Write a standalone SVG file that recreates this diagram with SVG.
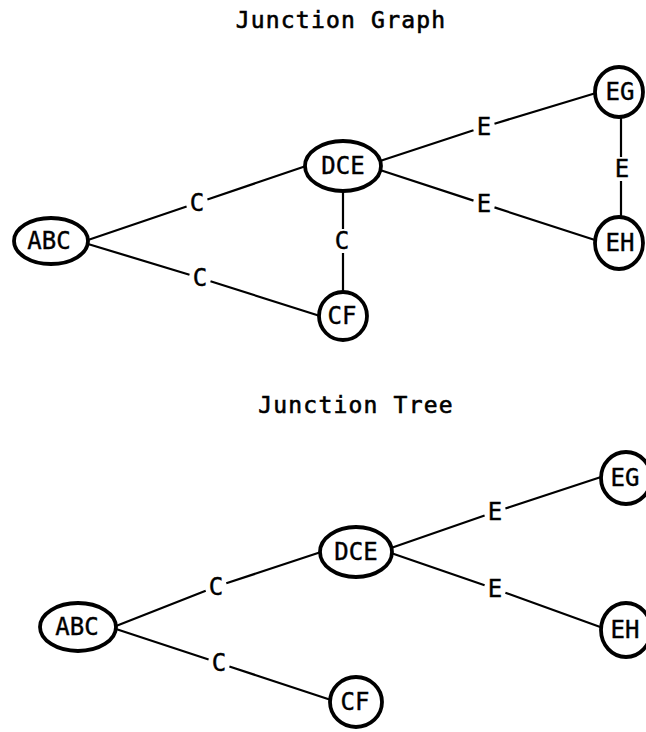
<svg xmlns="http://www.w3.org/2000/svg" width="646" height="732" viewBox="0 0 646 732">
  <style>
    .title { font-family: "DejaVu Sans Mono", "Liberation Mono", monospace; font-size: 23px; letter-spacing: 1.2px; fill: #000; stroke: #000; stroke-width: 0.6; text-anchor: middle; }
    .node ellipse { fill: #fff; stroke: #000; stroke-width: 3.8; }
    .node text { font-family: "DejaVu Sans Mono", "Liberation Mono", monospace; font-size: 24px; fill: #000; stroke: #000; stroke-width: 0.4; text-anchor: middle; }
    .edge { stroke: #000; stroke-width: 2.2; fill: none; }
    .elabel { font-family: "DejaVu Sans Mono", "Liberation Mono", monospace; font-size: 24px; fill: #000; stroke: #000; stroke-width: 0.4; text-anchor: middle; }
  </style>
  <rect width="646" height="732" fill="#fff"/>

  <!-- Junction graph -->
  <text class="title" x="341" y="28">Junction Graph</text>
  <g id="graph-edges">
    <path class="edge" d="M88 240 L186.6 206.5 M207.4 199.5 L306 166"/>
    <path class="edge" d="M88 244 L189.5 274.7 M210.5 281.3 L320 316"/>
    <path class="edge" d="M343 190 L343 229 M343 253 L343 293"/>
    <path class="edge" d="M380 161 L473.5 130.3 M494.5 123.7 L596 93"/>
    <path class="edge" d="M380 170 L473.5 200.6 M494.5 207.4 L598 241"/>
    <path class="edge" d="M621 116 L621 157 M621 181 L621 219"/>
    <text class="elabel" x="197" y="211">C</text>
    <text class="elabel" x="200" y="286">C</text>
    <text class="elabel" x="342" y="249">C</text>
    <text class="elabel" x="484" y="135">E</text>
    <text class="elabel" x="484" y="212">E</text>
    <text class="elabel" x="622" y="177">E</text>
  </g>
  <g id="g-ABC" class="node"><ellipse cx="51" cy="241" rx="37" ry="23"/><text x="49" y="249">ABC</text></g>
  <g id="g-DCE" class="node"><ellipse cx="343" cy="166" rx="38" ry="25"/><text x="343" y="174">DCE</text></g>
  <g id="g-CF" class="node"><ellipse cx="343" cy="316" rx="24" ry="24"/><text x="342" y="324">CF</text></g>
  <g id="g-EG" class="node"><ellipse cx="619" cy="92" rx="24" ry="25"/><text x="620" y="100">EG</text></g>
  <g id="g-EH" class="node"><ellipse cx="619" cy="243" rx="24" ry="26"/><text x="620" y="251">EH</text></g>

  <!-- Junction tree -->
  <text class="title" x="356" y="413">Junction Tree</text>
  <g id="tree-edges">
    <path class="edge" d="M116 626 L205.7 590.7 M226.3 583.3 L321 552"/>
    <path class="edge" d="M116 629 L208.6 659.5 M229.4 666.5 L331 700"/>
    <path class="edge" d="M391 548 L484.6 515.5 M505.4 508.5 L601 477"/>
    <path class="edge" d="M391 553 L484.6 585.3 M505.4 592.7 L603 628"/>
    <text class="elabel" x="216" y="595">C</text>
    <text class="elabel" x="219" y="671">C</text>
    <text class="elabel" x="495" y="520">E</text>
    <text class="elabel" x="495" y="597">E</text>
  </g>
  <g id="t-ABC" class="node"><ellipse cx="78" cy="627" rx="38" ry="24"/><text x="77" y="635">ABC</text></g>
  <g id="t-DCE" class="node"><ellipse cx="356" cy="552" rx="36" ry="25"/><text x="356" y="560">DCE</text></g>
  <g id="t-CF" class="node"><ellipse cx="356" cy="702" rx="26" ry="25"/><text x="355" y="710">CF</text></g>
  <g id="t-EG" class="node"><ellipse cx="626" cy="478" rx="25" ry="26"/><text x="625" y="486">EG</text></g>
  <g id="t-EH" class="node"><ellipse cx="626" cy="630" rx="25" ry="27"/><text x="625" y="638">EH</text></g>
</svg>
